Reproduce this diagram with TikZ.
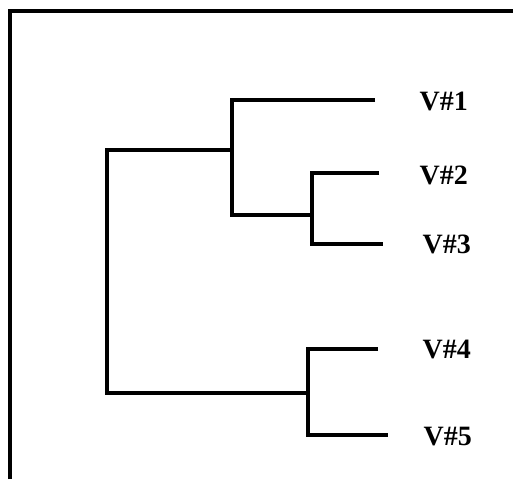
\documentclass[tikz,border=0pt]{standalone}
\usepackage{fontspec}
\setmainfont{Liberation Serif}
\begin{document}
\begin{tikzpicture}[x=1pt,y=-1pt,line width=3.4pt,line join=miter,
  lbl/.style={anchor=west,inner sep=0pt,font=\fontsize{28}{32}\selectfont\bfseries}]
\useasboundingbox (0,0) rectangle (513,479);
\draw (10,479) -- (10,11) -- (513,11);
% leaf labels
\node[lbl] (v1) at (418,101) {V\#1};
\node[lbl] (v2) at (418,175) {V\#2};
\node[lbl] (v3) at (421,244) {V\#3};
\node[lbl] (v4) at (421,349) {V\#4};
\node[lbl] (v5) at (422,437) {V\#5};
% leaf ends
\coordinate (e1) at (375,100);
\coordinate (e2) at (379,173);
\coordinate (e3) at (383,244);
\coordinate (e4) at (378,349);
\coordinate (e5) at (388,435);
% junctions
\coordinate (a1) at (232,100);
\coordinate (a0) at (232,150);
\coordinate (a2) at (232,215);
\coordinate (b0) at (312,215);
\coordinate (b2) at (312,173);
\coordinate (b3) at (312,244);
\coordinate (r1) at (107,150);
\coordinate (r2) at (107,393);
\coordinate (c0) at (308,393);
\coordinate (c4) at (308,349);
\coordinate (c5) at (308,435);
% branches
\draw (e1) -- (a1) -- (a2) -- (b0);
\draw (e2) -- (b2) -- (b3) -- (e3);
\draw (a0) -- (r1) -- (r2) -- (c0);
\draw (e4) -- (c4) -- (c5) -- (e5);
\end{tikzpicture}
\end{document}
